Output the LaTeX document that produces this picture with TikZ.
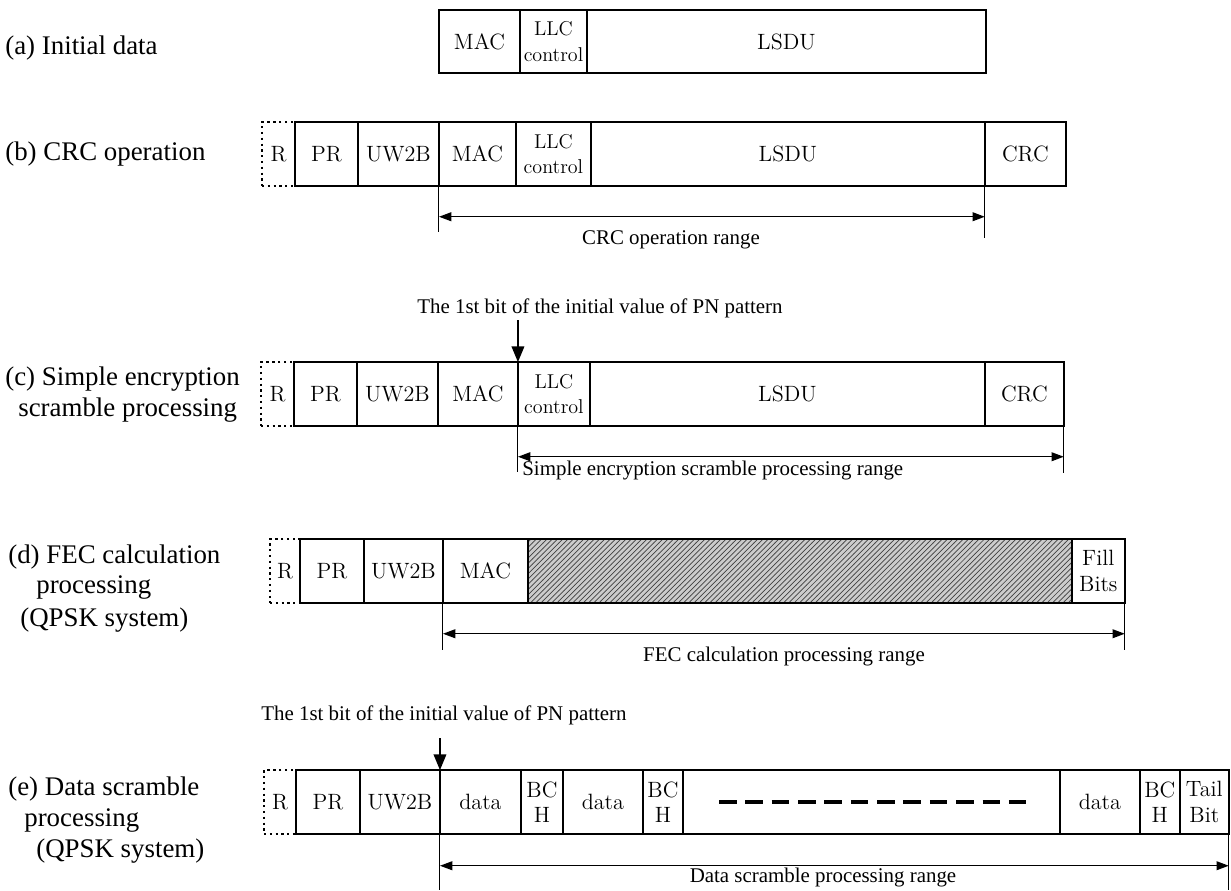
\documentclass[tikz,border=0pt]{standalone}
\usepackage{fontspec}
\newfontfamily\tnr{Liberation Serif}
\usetikzlibrary{arrows.meta, positioning, patterns, calc}

\begin{document}
\begin{tikzpicture}[
  x=0.02cm, y=-0.02cm,
  cell/.style={draw, line width=1.3pt, minimum height=1.27cm, inner sep=0pt,
    outer sep=0pt, anchor=west, align=center, font=\fontsize{12.6}{14.5}\selectfont},
  llc/.style={cell, font=\fontsize{11.4}{14.5}\selectfont},
  rcell/.style={cell, dotted, minimum width=0.66cm},
  hatch/.style={cell, preaction={fill=gray!40}, pattern=north east lines,
    pattern color=black!75},
  rowlbl/.style={anchor=west, inner sep=0pt, font=\tnr\fontsize{15.3}{18}\selectfont},
  rngtxt/.style={inner sep=0pt, font=\tnr\fontsize{11.9}{14}\selectfont},
  tick/.style={line width=0.6pt},
  rng/.style={{Triangle[length=7pt,width=5pt]}-{Triangle[length=7pt,width=5pt]}, line width=0.8pt},
  pn/.style={-{Triangle[length=9pt,width=7pt]}, line width=1.4pt}
]
\useasboundingbox (0,0) rectangle (1231,891);

%% ===== (a) Initial data =====
\node[rowlbl] (la) at (5,48) {(a) Initial data};
\node[cell, minimum width=1.62cm] (amac) at (439,41.5) {MAC};
\node[llc, minimum width=1.34cm, right=0pt of amac] (allc) {LLC\\control};
\node[cell, minimum width=7.98cm, right=0pt of allc] (alsdu) {LSDU};

%% ===== (b) CRC operation =====
\node[rowlbl] (lb) at (5,154) {(b) CRC operation};
\node[rcell] (br) at (262,154) {R};
\node[cell, minimum width=1.26cm, right=0pt of br] (bpr) {PR};
\node[cell, minimum width=1.62cm, right=0pt of bpr] (buw) {UW2B};
\node[cell, minimum width=1.54cm, right=0pt of buw] (bmac) {MAC};
\node[llc, minimum width=1.50cm, right=0pt of bmac] (bllc) {LLC\\control};
\node[cell, minimum width=7.88cm, right=0pt of bllc] (blsdu) {LSDU};
\node[cell, minimum width=1.62cm, right=0pt of blsdu] (bcrc) {CRC};

%% range
\draw[tick] (bmac.south west) -- +(0,46);
\draw[tick] (blsdu.south east) -- +(0,52);
\draw[rng] ($(bmac.south west)+(0,31)$) -- ($(blsdu.south east)+(0,31)$);
\node[rngtxt] (btxt) at (671,240) {CRC operation range};

%% ===== (c) Simple encryption scramble processing =====
\node[rowlbl] (lc1) at (5,379) {(c) Simple encryption};
\node[rowlbl] (lc2) at (18,410) {scramble processing};
\node[rcell] (cr) at (261,394) {R};
\node[cell, minimum width=1.26cm, right=0pt of cr] (cpr) {PR};
\node[cell, minimum width=1.62cm, right=0pt of cpr] (cuw) {UW2B};
\node[cell, minimum width=1.60cm, right=0pt of cuw] (cmac) {MAC};
\node[llc, minimum width=1.44cm, right=0pt of cmac] (cllc) {LLC\\control};
\node[cell, minimum width=7.90cm, right=0pt of cllc] (clsdu) {LSDU};
\node[cell, minimum width=1.58cm, right=0pt of clsdu] (ccrc) {CRC};

%% PN start
\node[rngtxt, anchor=west] (cpn) at (417,308) {The 1st bit of the initial value of PN pattern};
\draw[pn] ($(cllc.north west)+(0,-42)$) -- (cllc.north west);

%% range
\draw[tick] (cllc.south west) -- +(0,46);
\draw[tick] (ccrc.south east) -- +(0,47);
\draw[rng] ($(cllc.south west)+(0,31)$) -- ($(ccrc.south east)+(0,31)$);
\node[rngtxt, anchor=west] (ctxt) at (522,471) {Simple encryption scramble processing range};

%% ===== (d) FEC calculation processing =====
\node[rowlbl] (ld1) at (8,557) {(d) FEC calculation};
\node[rowlbl] (ld2) at (36,588) {processing};
\node[rowlbl] (ld3) at (20,620) {(QPSK system)};
\node[rcell, minimum width=0.60cm] (dr) at (270,571) {R};
\node[cell, minimum width=1.28cm, right=0pt of dr] (dpr) {PR};
\node[cell, minimum width=1.58cm, right=0pt of dpr] (duw) {UW2B};
\node[cell, minimum width=1.70cm, right=0pt of duw] (dmac) {MAC};
\node[hatch, minimum width=10.88cm, right=0pt of dmac] (dfec) {};
\node[cell, minimum width=1.06cm, right=0pt of dfec] (dfill) {Fill\\Bits};

%% range
\draw[tick] (dmac.south west) -- +(0,47);
\draw[tick] (dfill.south east) -- +(0,47);
\draw[rng] ($(dmac.south west)+(0,31)$) -- ($(dfill.south east)+(0,31)$);
\node[rngtxt] (dtxt) at (784,657) {FEC calculation processing range};

%% ===== (e) Data scramble processing =====
\node[rowlbl] (le1) at (8,789) {(e) Data scramble};
\node[rowlbl] (le2) at (24,820) {processing};
\node[rowlbl] (le3) at (36,851) {(QPSK system)};
\node[rcell, minimum width=0.64cm] (er) at (264,802) {R};
\node[cell, minimum width=1.28cm, right=0pt of er] (epr) {PR};
\node[cell, minimum width=1.60cm, right=0pt of epr] (euw) {UW2B};
\node[cell, minimum width=1.62cm, right=0pt of euw] (edat1) {data};
\node[cell, minimum width=0.84cm, right=0pt of edat1] (ebch1) {BC\\H};
\node[cell, minimum width=1.60cm, right=0pt of ebch1] (edat2) {data};
\node[cell, minimum width=0.80cm, right=0pt of edat2] (ebch2) {BC\\H};
\node[cell, minimum width=7.54cm, right=0pt of ebch2] (elong) {};
\node[cell, minimum width=1.60cm, right=0pt of elong] (edat3) {data};
\node[cell, minimum width=0.80cm, right=0pt of edat3] (ebch3) {BC\\H};
\node[cell, minimum width=0.98cm, right=0pt of ebch3] (etail) {Tail\\Bit};

%% omitted blocks
\draw[line width=2.3pt, dash pattern=on 10pt off 5pt] (719,802) -- (1029,802);

%% PN start
\node[rngtxt, anchor=west] (epn) at (261,715) {The 1st bit of the initial value of PN pattern};
\draw[pn] ($(edat1.north west)+(0,-32)$) -- (edat1.north west);

%% range
\draw[tick] (edat1.south west) -- +(0,56);
\draw[tick] (etail.south east) -- +(0,56);
\draw[rng] ($(edat1.south west)+(0,32)$) -- ($(etail.south east)+(0,32)$);
\node[rngtxt] (etxt) at (823,878) {Data scramble processing range};

\end{tikzpicture}
\end{document}
